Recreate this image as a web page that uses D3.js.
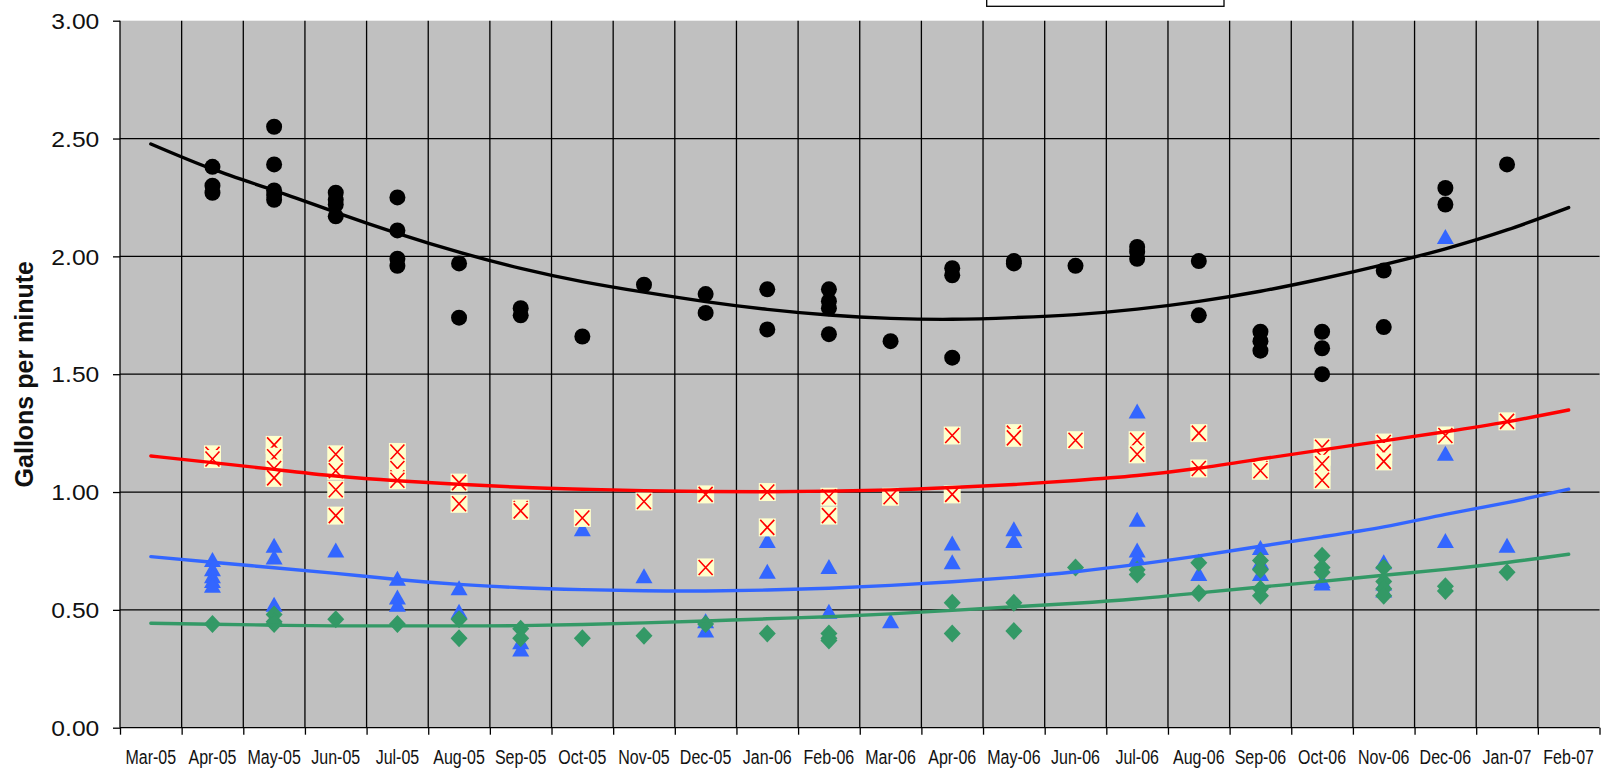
<!DOCTYPE html>
<html>
<head>
<meta charset="utf-8">
<script src="https://cdn.jsdelivr.net/npm/d3@7"></script>
<style>
  html, body { margin: 0; padding: 0; background: #ffffff; overflow: hidden; }
  text { font-family: "Liberation Sans", Arial, sans-serif; }
</style>
</head>
<body>
<svg id="chart" width="1606" height="770"></svg>
<script>
// Month categories along the bottom axis
const axisMonths = ["Mar-05","Apr-05","May-05","Jun-05","Jul-05","Aug-05","Sep-05","Oct-05",
  "Nov-05","Dec-05","Jan-06","Feb-06","Mar-06","Apr-06","May-06","Jun-06","Jul-06","Aug-06",
  "Sep-06","Oct-06","Nov-06","Dec-06","Jan-07","Feb-07"];

// Months that carry readings (Apr-05 .. Jan-07)
const sampleMonths = axisMonths.slice(1, 23);

// Readings per month, gallons per minute
const circleFlow = [
  [2.38, 2.30, 2.27], [2.55, 2.39, 2.28, 2.26, 2.24], [2.27, 2.24, 2.22, 2.17], [2.25, 2.11, 1.99, 1.96],
  [1.97, 1.74], [1.78, 1.75], [1.66], [1.88], [1.84, 1.76], [1.86, 1.69], [1.86, 1.81, 1.78, 1.67],
  [1.64], [1.95, 1.92, 1.57], [1.98, 1.97], [1.96], [2.04, 2.02, 1.99], [1.98, 1.75],
  [1.68, 1.64, 1.60], [1.68, 1.61, 1.50], [1.94, 1.70], [2.29, 2.22], [2.39]
];
const crossFlow = [
  [1.16, 1.14], [1.20, 1.15, 1.10, 1.06], [1.16, 1.09, 1.01, 0.90], [1.17, 1.10, 1.06, 1.05],
  [1.04, 0.95], [0.93, 0.92], [0.89], [0.96], [0.99, 0.68], [1.00, 0.85], [0.98, 0.90],
  [0.98], [1.24, 0.99], [1.25, 1.23], [1.22], [1.22, 1.16], [1.25, 1.10],
  [1.10, 1.09], [1.19, 1.15, 1.12, 1.05], [1.21, 1.17, 1.13], [1.24], [1.30]
];
const triangleFlow = [
  [0.71, 0.67, 0.64, 0.62, 0.60], [0.77, 0.72, 0.52], [0.75], [0.63, 0.55, 0.52],
  [0.59, 0.49], [0.36, 0.33], [0.84], [0.64], [0.45, 0.41], [0.79, 0.66], [0.68, 0.49],
  [0.45], [0.78, 0.70], [0.84, 0.79], [], [1.34, 0.88, 0.75, 0.72], [0.65],
  [0.76, 0.70, 0.65], [0.62, 0.61], [0.70, 0.61, 0.58], [2.08, 1.16, 0.79], [0.77]
];
const diamondFlow = [
  [0.44], [0.48, 0.45, 0.44], [0.46], [0.44],
  [0.46, 0.38], [0.42, 0.38], [0.38], [0.39], [0.44], [0.40], [0.40, 0.38, 0.37],
  [], [0.53, 0.40], [0.53, 0.41], [0.68], [0.67, 0.65], [0.70, 0.57],
  [0.71, 0.67, 0.59, 0.56], [0.73, 0.68, 0.66], [0.68, 0.62, 0.59, 0.56], [0.60, 0.58], [0.66]
];

// Trend curves, one value per axis month (Mar-05 .. Feb-07)
const circleTrend = [2.477, 2.370, 2.280, 2.187, 2.098, 2.018, 1.949, 1.893, 1.848, 1.808, 1.775, 1.751,
  1.737, 1.733, 1.740, 1.753, 1.776, 1.809, 1.852, 1.905, 1.965, 2.032, 2.112, 2.207];
const crossTrend = [1.153, 1.125, 1.096, 1.068, 1.048, 1.033, 1.020, 1.012, 1.006, 1.002, 1.001, 1.004,
  1.009, 1.019, 1.032, 1.049, 1.070, 1.101, 1.140, 1.179, 1.217, 1.256, 1.298, 1.348];
const triangleTrend = [0.726, 0.702, 0.679, 0.655, 0.629, 0.608, 0.594, 0.586, 0.581, 0.580, 0.584, 0.592,
  0.604, 0.619, 0.638, 0.662, 0.693, 0.729, 0.770, 0.810, 0.852, 0.905, 0.955, 1.012];
const diamondTrend = [0.443, 0.439, 0.435, 0.432, 0.432, 0.432, 0.433, 0.438, 0.445, 0.453, 0.462, 0.471,
  0.483, 0.498, 0.513, 0.528, 0.547, 0.572, 0.597, 0.621, 0.647, 0.672, 0.701, 0.736];

// Value axis ticks
const yTicks = [0, 0.5, 1.0, 1.5, 2.0, 2.5, 3.0];

// ---------------------------------------------------------------
const svg = d3.select("#chart");
const plot = { left: 120, right: 1599.5, top: 20.7, bottom: 727.7 };

const x = d3.scaleBand().domain(axisMonths).range([plot.left, plot.right]).paddingInner(0).paddingOuter(0);
const xEdge = d3.scaleLinear().domain([0, axisMonths.length]).range([plot.left, plot.right]);
const y = d3.scaleLinear().domain([0, 3]).range([plot.bottom, plot.top]);

// plot area
svg.append("rect")
  .attr("x", plot.left).attr("y", plot.top)
  .attr("width", 1600 - plot.left).attr("height", plot.bottom - plot.top)
  .attr("fill", "#c0c0c0");

// gridlines
const grid = svg.append("g").attr("stroke", "#000").attr("stroke-width", 1.3);
grid.selectAll("line.h").data(yTicks.filter(v => v > 0 && v < 3)).join("line")
  .attr("class", "h")
  .attr("x1", plot.left).attr("x2", plot.right)
  .attr("y1", d => y(d)).attr("y2", d => y(d));
grid.selectAll("line.v").data(d3.range(1, axisMonths.length)).join("line")
  .attr("class", "v")
  .attr("x1", d => xEdge(d)).attr("x2", d => xEdge(d))
  .attr("y1", plot.top).attr("y2", plot.bottom);

// legend frame (sits above the visible area)
svg.append("rect")
  .attr("x", 986.7).attr("y", -30).attr("width", 237.3).attr("height", 36.3)
  .attr("fill", "#fff").attr("stroke", "#000").attr("stroke-width", 1.3);

// flatten series into points
function points(series) {
  const out = [];
  series.forEach((vals, i) => vals.forEach(v => out.push({ m: sampleMonths[i], v })));
  return out;
}
const px = d => x(d.m) + x.bandwidth() / 2;

// markers
const circles = svg.append("g");
circles.selectAll("circle").data(points(circleFlow)).join("circle")
  .attr("cx", px).attr("cy", d => y(d.v)).attr("r", 8).attr("fill", "#000");

const tri = svg.append("g");
tri.selectAll("path").data(points(triangleFlow)).join("path")
  .attr("transform", d => `translate(${px(d)},${y(d.v)})`)
  .attr("d", "M0,-8.5L8.5,6.5L-8.5,6.5Z")
  .attr("fill", "#3366ff");

const crosses = svg.append("g");
const cg = crosses.selectAll("g").data(points(crossFlow)).join("g")
  .attr("transform", d => `translate(${px(d)},${y(d.v)})`);
cg.append("rect").attr("x", -8.5).attr("y", -9).attr("width", 17).attr("height", 18).attr("fill", "#ffffcc");
cg.append("path").attr("d", "M-7,-7.5L7,7.5M7,-7.5L-7,7.5")
  .attr("stroke", "#ff0000").attr("stroke-width", 1.6).attr("fill", "none");

const dia = svg.append("g");
dia.selectAll("path").data(points(diamondFlow)).join("path")
  .attr("transform", d => `translate(${px(d)},${y(d.v)})`)
  .attr("d", "M0,-9L8.5,0L0,9L-8.5,0Z")
  .attr("fill", "#339966");

// trend curves
const trendLine = d3.line()
  .x((d, i) => x(axisMonths[i]) + x.bandwidth() / 2)
  .y(d => y(d))
  .curve(d3.curveNatural);
[[circleTrend, "#000000"], [crossTrend, "#ff0000"], [triangleTrend, "#3366ff"], [diamondTrend, "#339966"]]
  .forEach(([trend, color]) => {
    svg.append("path")
      .attr("d", trendLine(trend))
      .attr("fill", "none").attr("stroke", color).attr("stroke-width", 3.4)
      .attr("stroke-linecap", "round");
  });

// axes
const yAxis = svg.append("g").attr("transform", `translate(${plot.left},0)`)
  .call(d3.axisLeft(y).tickValues(yTicks).tickFormat(d3.format(".2f")).tickSize(7));
yAxis.select(".domain").remove();
yAxis.selectAll(".tick line").attr("stroke", "#000").attr("stroke-width", 1.3);
yAxis.selectAll(".tick text")
  .attr("x", 0).attr("dy", "0.35em")
  .attr("transform", "translate(-20.7,0) scale(1.12,1)")
  .attr("fill", "#111").style("font-size", "22px");

const xTicks = svg.append("g").attr("transform", `translate(0,${plot.bottom})`)
  .call(d3.axisBottom(xEdge).tickValues(d3.range(0, axisMonths.length + 1)).tickFormat("").tickSize(7));
xTicks.select(".domain").remove();
xTicks.selectAll(".tick line").attr("stroke", "#000").attr("stroke-width", 1.3);

const xLabels = svg.append("g").attr("transform", `translate(0,${plot.bottom})`)
  .call(d3.axisBottom(x).tickSize(0));
xLabels.select(".domain").remove();
xLabels.selectAll(".tick text")
  .attr("y", 0).attr("dy", 0)
  .attr("transform", "translate(0,36) scale(0.82,1)")
  .attr("fill", "#111").style("font-size", "19.5px");

// axis lines
svg.append("line").attr("x1", plot.left).attr("x2", plot.left).attr("y1", plot.top).attr("y2", plot.bottom)
  .attr("stroke", "#000").attr("stroke-width", 1.3);
svg.append("line").attr("x1", plot.left).attr("x2", plot.right).attr("y1", plot.bottom).attr("y2", plot.bottom)
  .attr("stroke", "#000").attr("stroke-width", 1.3);

// value axis title
svg.append("text")
  .attr("transform", `translate(33,${(plot.top + plot.bottom) / 2}) rotate(-90)`)
  .attr("text-anchor", "middle")
  .attr("font-weight", "bold").style("font-size", "25px").attr("fill", "#111")
  .text("Gallons per minute");
</script>
</body>
</html>
